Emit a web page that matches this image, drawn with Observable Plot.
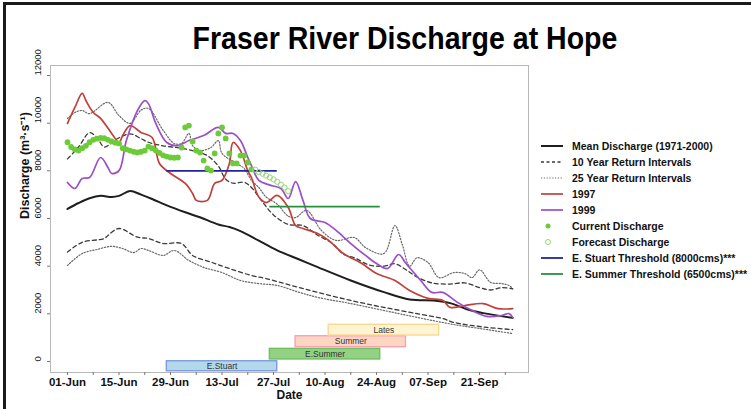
<!DOCTYPE html>
<html><head><meta charset="utf-8">
<script src="https://cdn.jsdelivr.net/npm/d3@7"></script>
<script src="https://cdn.jsdelivr.net/npm/@observablehq/plot@0.6"></script>
<style>
html,body{margin:0;padding:0;background:#fff;}
#wrap{position:relative;width:751px;height:409px;overflow:hidden;font-family:"Liberation Sans",Arial,sans-serif;background:#fff;}
#border{position:absolute;left:3px;top:2px;width:820px;height:520px;border-top:3px solid #1b1b1b;border-left:3px solid #1b1b1b;box-sizing:border-box;}
#chart{position:absolute;left:0;top:0;}
#title{position:absolute;left:405px;top:23px;white-space:nowrap;font-weight:bold;font-size:31px;line-height:31px;color:#000;transform:translateX(-50%) scaleX(0.92);}
.leg{position:absolute;left:540px;height:16px;line-height:16px;font-size:10.5px;font-weight:bold;color:#111;white-space:nowrap;}
.leg svg{position:absolute;left:0;top:3px;}
.leg span{position:absolute;left:32px;top:0;}
</style>
</head><body>
<div id="wrap">
  <div id="chart"></div>
  <div id="border"></div>
  <div id="title">Fraser River Discharge at Hope</div>
  <div id="legend"></div>
</div>
<script>
// ---- data (day = days after 01-Jun) ----
const meanDay = [0,3,6,9,12,14,17,20,23,27,32,36,41,44,47,52,57,63,68,77,86,93,100,104,109,113,121];
const meanQ   = [6400,6650,6850,6950,6900,6950,7150,7000,6820,6550,6260,6050,5750,5640,5470,5070,4660,4280,3960,3400,2910,2600,2550,2450,2170,2030,1830];

const hi10Day = [0,3,6,8,10,13,17,20,22,26,31,35,38,41,43,45,48,50,53,56,60,64,68,72,75,78,82,86,89,92,95,99,104,108,112,115,118,121];
const hi10Q   = [8500,9000,9600,9400,9000,9300,9550,9350,9200,9050,8950,8800,8640,8200,7650,7480,7520,7300,6700,6150,5750,5700,5300,4950,4500,4350,4050,4000,4100,3850,3550,3300,3250,3300,3100,3000,3100,3050];

const lo10Day = [0,4,10,11,14,19,22,26,31,34,39,44,50,54,59,63,68,77,86,95,102,105,114,121];
const lo10Q   = [4590,5000,5160,5290,5580,5215,5160,4950,4950,4450,4170,3900,3610,3480,3270,3100,2900,2560,2270,2010,1800,1640,1430,1340];

const hi25Day = [0,2,4,6,11,14,17,20,22,26,29,31,33,34,36,39,41,42,46,48,50,52,54,57,60,62,65,69,73,78,81,86,89,91,93,95,98,101,105,108,110,112,115,118,120,121];
const hi25Q   = [10200,10450,10530,10400,10870,10320,9990,10550,10620,9700,9150,9150,9570,9060,8850,8980,9270,8730,8310,8100,7600,7300,6900,6600,6100,6040,6340,5500,5080,5200,4780,4530,5700,4900,4000,4350,4150,3520,3730,3690,3520,3850,3320,3270,3190,3060];

const lo25Day = [0,4,8,12,15,18,20,22,26,29,33,37,42,47,52,57,63,68,77,86,95,105,114,121];
const lo25Q   = [4030,4530,4700,4830,4740,4570,4740,4660,4450,4660,4240,3950,3730,3400,3270,3190,2900,2690,2430,2140,1850,1550,1340,1170];

const y1997Day = [0,2,4,5,7,9,12,14,15,17,20,23,25,28,32,34,35,38,40,42,44,45,47,49,50,52,54,57,60,62,64,68,71,75,80,84,89,93,98,102,104,108,113,117,121];
const y1997Q   = [9990,10660,11250,10950,10450,10200,9570,9190,9480,9900,9610,9400,8310,7890,7470,7050,6760,6760,7470,7600,8310,9190,8850,8000,7720,6900,6670,6970,6460,5700,5580,5370,5080,4530,4110,3690,3400,2980,2650,2560,2270,2350,2430,2220,2220];

const y1999Day = [0,2,4,6,9,11,12,14,16,19,21,22,24,27,30,33,37,41,43,45,47,49,50,52,55,58,60,62,64,66,70,73,77,81,84,87,90,92,96,99,102,106,110,114,118,120,121];
const y1999Q   = [7510,7260,7680,7720,8560,8140,7890,8010,9270,10530,10950,10820,9990,9190,9060,9270,9480,9820,9570,9570,9270,8560,8220,7600,7400,7260,6840,7550,6760,6000,5830,5500,4950,4450,4110,3900,4490,4110,3400,2900,2900,2480,2140,1890,1930,2010,1850];

const currentDay = [0,1,2,3,4,5,6,7,8,9,10,11,12,13,14,15,16,17,18,19,20,21,22,23,24,25,26,27,28,29,30,31,32,33,34,35,36,37,38,39,40,41,42,43,44,45,46,47,48,49,50];
const currentQ   = [9200,9000,8900,8850,8950,9050,9200,9300,9350,9380,9370,9300,9230,9180,9150,8950,8900,8850,8800,8770,8800,8850,9020,8950,8850,8750,8650,8600,8560,8550,8560,8980,9820,9900,9230,8850,8770,8430,8100,8010,8730,9570,9820,9360,8730,8310,8310,8640,8640,8350,8060];

const forecastDay = [51,52,53,54,55,56,57,58,59,60];
const forecastQ   = [8050,7950,7880,7800,7720,7640,7540,7420,7300,7150];

const thresholdName  = ["E. Stuart","E. Summer"];
const thresholdQ     = [8000,6500];
const thresholdStart = [27,55];
const thresholdEnd   = [57,85];

const runName  = ["E.Stuart","E.Summer","Summer","Lates"];
const runStart = [27,55,62,71];
const runEnd   = [57,85,92,101];
const runLow   = [-410,85,600,1090];
const runHigh  = [10,530,1060,1540];

const yTicks = [0,2000,4000,6000,8000,10000,12000];
const xMinorTickDay = [0,7,14,21,28,35,42,49,56,63,70,77,84,91,98,105,112,119];
const xLabelTickDay = [0,14,28,42,56,70,84,98,112];

const legendLabels = ["Mean Discharge (1971-2000)","10 Year Return Intervals","25 Year Return Intervals","1997","1999","Current Discharge","Forecast Discharge","E. Stuart Threshold (8000cms)***","E. Summer Threshold (6500cms)***"];

// ---- styles ----
const C = {
  mean:"#1e1e1e", ret:"#3a3a3a", ret25:"#6a6a6a", r1997:"#c2403a", r1999:"#9a4fc8",
  cur:"#6dcb3a", fc:"#93d874", stuart:"#23239c", summerT:"#25913a"
};
const runFill = {"E.Stuart":"#b3d8ea","E.Summer":"#92d282","Summer":"#fdd6c2","Lates":"#fff5d4"};
const runStroke = {"E.Stuart":"#7d9ce0","E.Summer":"#70c060","Summer":"#f7a0ba","Lates":"#f9d98c"};

// ---- build ----
const day0 = Date.UTC(2013,5,1);
const toDate = d => new Date(day0 + d*864e5);
const series = (days, vals) => days.map((d,i) => ({date: toDate(d), q: vals[i]}));

const mean = series(meanDay, meanQ);
const hi10 = series(hi10Day, hi10Q), lo10 = series(lo10Day, lo10Q);
const hi25 = series(hi25Day, hi25Q), lo25 = series(lo25Day, lo25Q);
const s1997 = series(y1997Day, y1997Q), s1999 = series(y1999Day, y1999Q);
const current = series(currentDay, currentQ), forecast = series(forecastDay, forecastQ);
const thresholds = thresholdName.map((n,i) => ({name:n, q:thresholdQ[i], start:toDate(thresholdStart[i]), end:toDate(thresholdEnd[i])}));
const runs = runName.map((n,i) => ({name:n, start:toDate(runStart[i]), end:toDate(runEnd[i]), mid:toDate((runStart[i]+runEnd[i])/2), lo:runLow[i], hi:runHigh[i], ym:(runLow[i]+runHigh[i])/2}));

const fmt = d3.utcFormat("%d-%b");
const curve = "catmull-rom";

const chart = Plot.plot({
  width: 751, height: 409,
  marginLeft: 50, marginRight: 223, marginTop: 65, marginBottom: 37,
  style: {fontFamily: '"Liberation Sans", Arial, sans-serif', background: "transparent", color: "#111"},
  x: {type: "utc", domain: [toDate(-4.62), toDate(125.3)]},
  y: {domain: [-462, 12420]},
  marks: [
    Plot.frame({stroke: "#b8b8b8"}),
    Plot.rect(runs, {x1: "start", x2: "end", y1: "lo", y2: "hi", fill: d => runFill[d.name], stroke: d => runStroke[d.name], strokeWidth: 1.4}),
    Plot.text(runs, {x: "mid", y: "ym", text: "name", fontSize: 8.5, fill: "#333"}),
    Plot.line(lo25, {x: "date", y: "q", stroke: C.ret25, strokeWidth: 1.2, strokeDasharray: "1.3,1.7", curve}),
    Plot.line(lo10, {x: "date", y: "q", stroke: C.ret, strokeWidth: 1.3, strokeDasharray: "4,3", curve}),
    Plot.line(hi25, {x: "date", y: "q", stroke: C.ret25, strokeWidth: 1.2, strokeDasharray: "1.3,1.7", curve}),
    Plot.line(hi10, {x: "date", y: "q", stroke: C.ret, strokeWidth: 1.3, strokeDasharray: "4,3", curve}),
    Plot.line(mean, {x: "date", y: "q", stroke: C.mean, strokeWidth: 2, curve}),
    Plot.line(s1997, {x: "date", y: "q", stroke: C.r1997, strokeWidth: 1.7, curve}),
    Plot.line(s1999, {x: "date", y: "q", stroke: C.r1999, strokeWidth: 1.7, curve}),
    Plot.ruleY(thresholds, {y: "q", x1: "start", x2: "end", stroke: d => d.name === "E. Stuart" ? C.stuart : C.summerT, strokeWidth: 1.8}),
    Plot.dot(current, {x: "date", y: "q", r: 2.9, fill: C.cur, stroke: "none"}),
    Plot.dot(forecast, {x: "date", y: "q", r: 2.6, fill: "none", stroke: C.fc, strokeWidth: 1}),
    Plot.axisY(yTicks, {tickSize: 3, tickFormat: () => "", stroke: "#777", label: null}),
    Plot.text(yTicks, {y: d => d, text: d => String(d), frameAnchor: "left", dx: -13, rotate: -90, fontSize: 9.5, fill: "#111"}),
    Plot.axisX(xMinorTickDay.map(toDate), {tickSize: 3, tickFormat: () => "", stroke: "#777", label: null}),
    Plot.axisX(xLabelTickDay.map(toDate), {tickSize: 0, tickPadding: 5, tickFormat: fmt, fontSize: 11.5, fontWeight: "bold", fill: "#111", label: null}),
    Plot.text(["Date"], {frameAnchor: "bottom", dy: 26, text: d => d, fontSize: 12, fontWeight: "bold", fill: "#111"}),
    Plot.text(["Discharge (m³·s⁻¹)"], {frameAnchor: "left", dx: -26, rotate: -90, text: d => d, fontSize: 12.5, fontWeight: "bold", fill: "#111"})
  ]
});
document.getElementById("chart").appendChild(chart);

// ---- legend ----
const legendStyle = [
  {line: C.mean, w: 2},
  {line: C.ret, w: 1.3, dash: "3,2.5"},
  {line: C.ret25, w: 1.2, dash: "1.2,1.6"},
  {line: C.r1997, w: 1.7},
  {line: C.r1999, w: 1.7},
  {dot: C.cur, fill: true},
  {dot: C.fc, fill: false},
  {line: C.stuart, w: 1.8},
  {line: C.summerT, w: 1.8}
];
const leg = document.getElementById("legend");
legendLabels.forEach((lab, i) => {
  const st = legendStyle[i];
  const row = document.createElement("div");
  row.className = "leg";
  row.style.top = (145.5 + i*16.1 - 8) + "px";
  let sw;
  if (st.line) {
    sw = `<svg width="24" height="10"><line x1="1" x2="23" y1="5" y2="5" stroke="${st.line}" stroke-width="${st.w}" ${st.dash ? `stroke-dasharray="${st.dash}"` : ""}/></svg>`;
  } else {
    sw = `<svg width="24" height="10"><circle cx="8" cy="5" r="2.5" ${st.fill ? `fill="${st.dot}"` : `fill="none" stroke="${st.dot}" stroke-width="1"`}/></svg>`;
  }
  row.innerHTML = sw + `<span>${lab}</span>`;
  leg.appendChild(row);
});
</script>
</body></html>
